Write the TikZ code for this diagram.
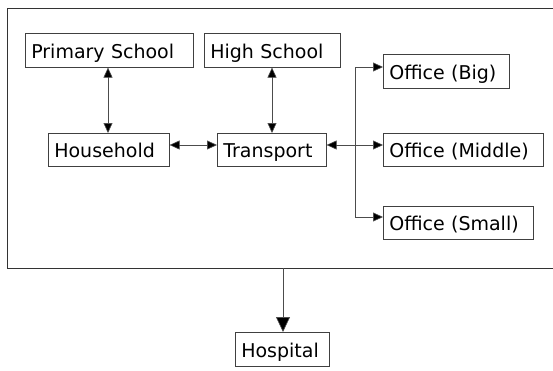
\documentclass[tikz,border=0pt]{standalone}
\usepackage{fontspec}
\setmainfont{DejaVu Sans}
\usetikzlibrary{arrows.meta,calc}
\begin{document}
\begin{tikzpicture}[x=1pt,y=-1pt,
  box/.style={draw=black!75,line width=0.6pt,rectangle,inner xsep=6pt,inner ysep=0pt,align=left,text height=19.5pt,text depth=3.5pt,font=\fontsize{19}{21}\selectfont,anchor=north west},
  conn/.style={draw=black!70,line width=0.6pt},
  tip/.style={-{Triangle[length=10pt,width=9pt,fill=black]}},
  bigtip/.style={-{Triangle[length=15pt,width=14pt,fill=black]}},
  tips/.style={{Triangle[length=10pt,width=9pt,fill=black]}-{Triangle[length=10pt,width=9pt,fill=black]}}]
\useasboundingbox (0,0) rectangle (553,370);
% frame
\draw[conn,line width=0.9pt,draw=black!80] (556,8) -- (7,8) -- (7,268) -- (556,268);
\newcommand{\mybox}[7]{% name, x1,y1,x2,y2,text
  \node[box,minimum width={#4-#2},minimum height={#5-#3},text width={#4-#2-12},#7] (#1) at (#2,#3) {#6};}
\mybox{ps}{25}{33}{193}{67}{Primary School}{}
\mybox{hs}{204}{33}{340}{67}{High School}{}
\mybox{hh}{48}{133}{169}{166}{Household}{}
\mybox{tr}{217}{133}{326}{166}{Transport}{}
\mybox{ob}{383}{54}{509}{88}{Office (Big)}{}
\mybox{om}{383}{133}{543}{166}{Office (Middle)}{}
\mybox{os}{383}{206}{533}{239}{Office (Small)}{}
\mybox{ho}{235}{332}{329}{366}{Hospital}{}
\coordinate (fb) at (283,268);
\coordinate (br) at (355,145);
% connectors
\draw[conn,tips] (ps.south -| 108,0) -- (hh.north -| 108,0);
\draw[conn,tips] (hs.south -| 272,0) -- (tr.north -| 272,0);
\draw[conn,tips] (hh.east |- 0,145) -- (tr.west |- 0,145);
\draw[conn,tips] (tr.east |- 0,145) -- (om.west |- 0,145);
\draw[conn,tip] (br) -- (br |- 0,67) -- (ob.west |- 0,67);
\draw[conn,tip] (br) -- (br |- 0,217) -- (os.west |- 0,217);
\draw[conn,bigtip] (fb) -- (ho.north -| fb);
\end{tikzpicture}
\end{document}
